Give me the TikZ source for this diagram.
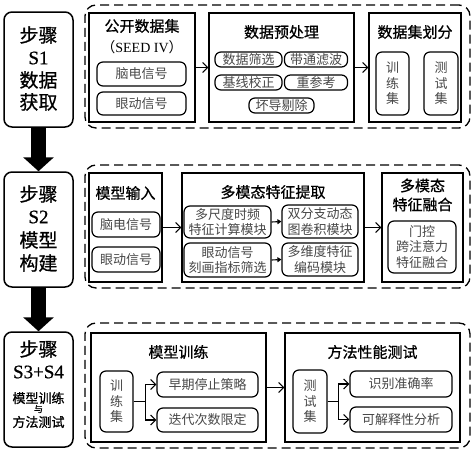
\documentclass[tikz,border=0pt]{standalone}
\usepackage{fontspec}
\setmainfont{Noto Sans CJK SC}
\newfontfamily\lat{Liberation Serif}
\newfontfamily\bcjk[FakeBold=0.8]{Noto Sans CJK SC}
\newfontfamily\blat[FakeBold=0.8]{Liberation Serif}
\usetikzlibrary{arrows.meta}
\tikzset{
 stepbox/.style={draw, line width=1.5pt, rounded corners=8pt, inner sep=0},
 group/.style={draw, line width=1.3pt, dash pattern=on 9pt off 5pt, rounded corners=11pt, inner sep=0},
 panel/.style={draw, line width=1.3pt, inner sep=0},
 pill/.style={draw, line width=1.2pt, rounded corners=6pt, inner sep=0, align=center, text=black!72, font=\fontsize{13}{15.5}\selectfont},
 ttl/.style={inner sep=0, font=\bcjk\fontsize{15}{19}\selectfont, align=center},
 steptxt/.style={inner sep=0, font=\bcjk\fontsize{19}{22}\selectfont},
 smalltxt/.style={inner sep=0, font=\bcjk\fontsize{13}{15}\selectfont},
 arr/.style={line width=1.1pt, -{Straight Barb[length=5pt,width=10pt]}},
 sarr/.style={line width=1.1pt, -{Triangle[length=4pt,width=5pt]}},
 bigarr/.style={line width=15pt, -{Triangle[length=14pt,width=30pt]}},
}
\begin{document}
\begin{tikzpicture}[x=1pt,y=-1pt]
\useasboundingbox (0,0) rectangle (474,455);
% step boxes
\node[stepbox, minimum width=69pt, minimum height=115pt] (s1) at (38.5,69.5) {};
\node[stepbox, minimum width=69pt, minimum height=115pt] (s2) at (38.5,229.5) {};
\node[stepbox, minimum width=69pt, minimum height=115pt] (s3) at (38.5,389.5) {};
\node[steptxt] (s1a) at (38.5,35) {步骤};
\node[steptxt] (s1b) at (38.5,58) {\blat S1};
\node[steptxt] (s1c) at (38.5,80) {数据};
\node[steptxt] (s1d) at (38.5,102) {获取};
\node[steptxt] (s2a) at (38.5,194) {步骤};
\node[steptxt] (s2b) at (38.5,217) {\blat S2};
\node[steptxt] (s2c) at (38.5,240) {模型};
\node[steptxt] (s2d) at (38.5,263) {构建};
\node[steptxt] (s3a) at (38.5,349) {步骤};
\node[steptxt] (s3b) at (38.5,372) {\blat S3+S4};
\node[smalltxt] (s3c) at (38.5,398) {模型训练};
\node[inner sep=0, font=\bcjk\fontsize{9}{10}\selectfont] (s3d) at (38.5,409) {与};
\node[smalltxt] (s3e) at (38.5,422) {方法测试};
\draw[bigarr] (s1.south) -- (s2.north);
\draw[bigarr] (s2.south) -- (s3.north);
% groups
\node[group, minimum width=385pt, minimum height=123pt] (g1) at (277.5,66.5) {};
\node[group, minimum width=385pt, minimum height=123pt] (g2) at (277.5,226.5) {};
\node[group, minimum width=385pt, minimum height=125pt] (g3) at (277.5,385.5) {};
% S1 panels
\node[panel, minimum width=106pt, minimum height=109pt] (src) at (142,67.5) {};
\node[ttl] (srct) at (142,26) {公开数据集};
\node[ttl, font=\fontsize{14}{16}\selectfont] (srcs) at (142,47) {（{\lat SEED IV}）};
\node[pill, minimum width=89pt, minimum height=24pt] (eeg1) at (141.5,74) {脑电信号};
\node[pill, minimum width=89pt, minimum height=23pt] (eye1) at (141.5,103.5) {眼动信号};
\node[panel, minimum width=145pt, minimum height=109pt] (pre) at (281.5,67.5) {};
\node[ttl] (pret) at (281.5,32) {数据预处理};
\node[pill, minimum width=67pt, minimum height=15pt] (p1) at (248.5,59.5) {数据筛选};
\node[pill, minimum width=63pt, minimum height=15pt] (p2) at (316,59.5) {带通滤波};
\node[pill, minimum width=67pt, minimum height=15pt] (p3) at (248.5,82.5) {基线校正};
\node[pill, minimum width=63pt, minimum height=15pt] (p4) at (316,82.5) {重参考};
\node[pill, minimum width=65pt, minimum height=15pt] (p5) at (281.5,105.5) {坏导剔除};
\node[panel, minimum width=92pt, minimum height=109pt] (split) at (415,67.5) {};
\node[ttl] (splitt) at (415,32) {数据集划分};
\node[pill, minimum width=33pt, minimum height=63pt] (tr1) at (392.5,83.5) {训\\练\\集};
\node[pill, minimum width=34pt, minimum height=63pt] (te1) at (441,83.5) {测\\试\\集};
\draw[arr] (src.east) -- (pre.west);
\draw[arr] (pre.east) -- (split.west);
% S2 panels
\node[panel, minimum width=73pt, minimum height=109pt] (in) at (125.5,227.5) {};
\node[ttl] (int) at (125.5,193) {模型输入};
\node[pill, minimum width=68pt, minimum height=25pt] (eeg2) at (126,224.5) {脑电信号};
\node[pill, minimum width=68pt, minimum height=25pt] (eye2) at (126,259.5) {眼动信号};
\node[panel, minimum width=182pt, minimum height=109pt] (ext) at (273,227.5) {};
\node[ttl] (extt) at (273,192) {多模态特征提取};
\node[pill, minimum width=87pt, minimum height=32pt] (ms) at (227.5,222) {多尺度时频\\特征计算模块};
\node[pill, minimum width=87pt, minimum height=34pt] (es) at (227.5,260) {眼动信号\\刻画指标筛选};
\node[pill, minimum width=76pt, minimum height=33pt] (gcn) at (320,221.5) {双分支动态\\图卷积模块};
\node[pill, minimum width=76pt, minimum height=33pt] (enc) at (320,259.5) {多维度特征\\编码模块};
\node[panel, minimum width=81pt, minimum height=109pt] (fus) at (422.5,227.5) {};
\node[ttl] (fust) at (422.5,195) {多模态\\特征融合};
\node[pill, minimum width=68pt, minimum height=52pt] (gate) at (422,247) {门控\\跨注意力\\特征融合};
\draw[arr] (in.east) -- (ext.west);
\draw[arr] (ext.east) -- (fus.west);
\draw[sarr] (ms.east) -- (gcn.west);
\draw[sarr] (es.east) -- (enc.west);
% S3 panels
\node[panel, minimum width=175pt, minimum height=109pt] (train) at (178.5,387.5) {};
\node[ttl] (traint) at (178.5,352) {模型训练};
\node[pill, minimum width=33pt, minimum height=61pt] (tr3) at (116.5,401.5) {训\\练\\集};
\node[pill, minimum width=101pt, minimum height=25pt] (early) at (207.5,384.5) {早期停止策略};
\node[pill, minimum width=101pt, minimum height=24pt] (iter) at (207.5,420) {迭代次数限定};
\node[panel, minimum width=175pt, minimum height=109pt] (test) at (372.5,387.5) {};
\node[ttl] (testt) at (372.5,352) {方法性能测试};
\node[pill, minimum width=34pt, minimum height=63pt] (te3) at (310,401.5) {测\\试\\集};
\node[pill, minimum width=102pt, minimum height=26pt] (acc) at (401,384) {识别准确率};
\node[pill, minimum width=102pt, minimum height=25pt] (xai) at (401,419.5) {可解释性分析};
\draw[arr] (tr3.east) -- ++(12,0) |- (early.west);
\draw[arr] (tr3.east) -- ++(12,0) |- (iter.west);
\draw[arr] (te3.east) -- ++(11,0) |- (acc.west);
\draw[arr] (te3.east) -- ++(11,0) |- (xai.west);
\draw[arr] (train.east) -- (test.west);
\end{tikzpicture}
\end{document}
